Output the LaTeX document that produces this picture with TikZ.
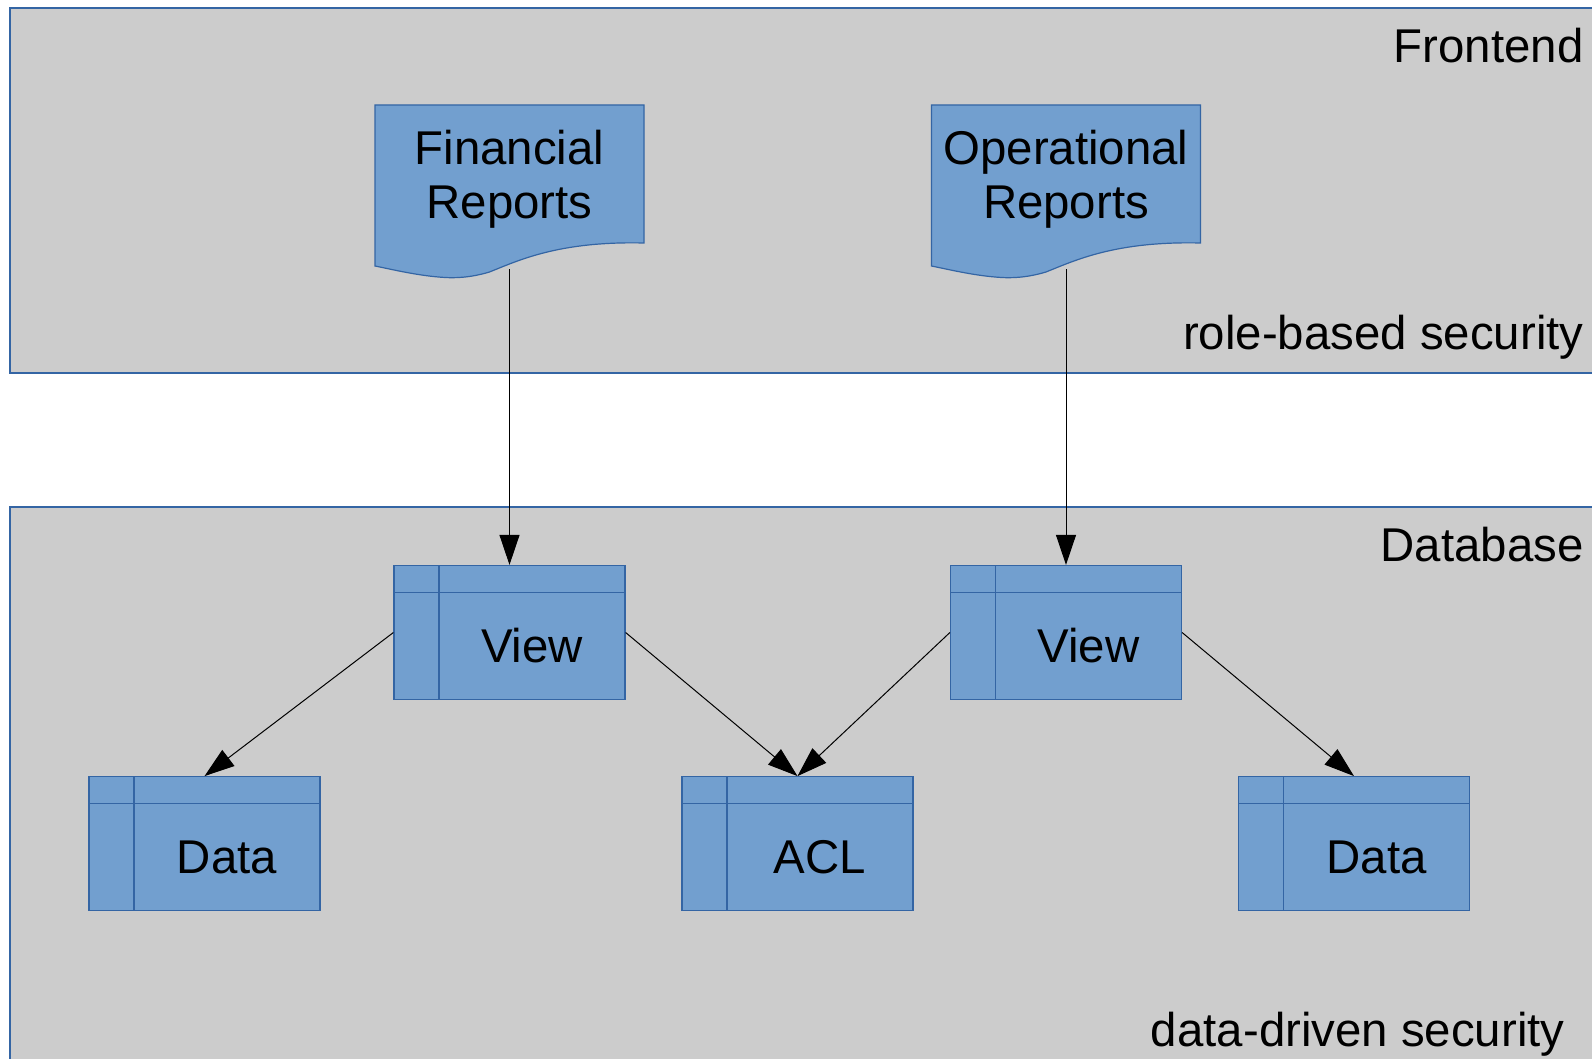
\documentclass[tikz,border=0pt]{standalone}
\usepackage{fontspec}
\setmainfont{Liberation Sans}
\usetikzlibrary{arrows.meta, positioning, backgrounds}
\definecolor{lofill}{HTML}{729FCF}
\definecolor{loline}{HTML}{3465A4}
\definecolor{zonegray}{HTML}{CCCCCC}
\newcommand{\diagfont}{\fontsize{23.7pt}{27pt}\selectfont}

\begin{document}
\begin{tikzpicture}[x=0.5pt, y=-0.5pt, font=\diagfont,
    zone/.style={draw=loline, fill=zonegray, line width=0.6pt},
    zonelabel/.style={inner sep=0pt, anchor=base east},
    report/.style={minimum width=134.5pt, minimum height=70pt, inner sep=0pt, align=center},
    docline/.style={draw=loline, fill=lofill, line width=0.6pt},
    tbl/.style={draw=loline, fill=lofill, line width=0.6pt, minimum width=115.5pt, minimum height=67pt, inner sep=0pt,
        path picture={
            \draw[loline, line width=0.6pt] ([yshift=-13.3pt]path picture bounding box.north west) -- ([yshift=-13.3pt]path picture bounding box.north east);
            \draw[loline, line width=0.6pt] ([xshift=22.5pt]path picture bounding box.north west) -- ([xshift=22.5pt]path picture bounding box.south west);}},
    tbltext/.style={xshift=11.25pt, yshift=-6.7pt},
    arr/.style={-{Triangle[length=15pt, width=10pt]}, line width=0.5pt}]
        \useasboundingbox (0,0) rectangle (1592,1059);

        % reports in the frontend
        \node[report] at (509.5,179) (finrep) {Financial\\Reports};
        \node[report] at (1066,179) (oprep) {Operational\\Reports};
        \coordinate (finfoot) at ([yshift=-10pt]finrep.south);
        \coordinate (opfoot) at ([yshift=-10pt]oprep.south);

        % tables in the database
        \node[tbl, label={[tbltext]center:View}] at (509.5,632.5) (view1) {};
        \node[tbl, label={[tbltext]center:View}] at (1066,632.5) (view2) {};
        \node[tbl, label={[tbltext]center:Data}] at (204.5,843.7) (data1) {};
        \node[tbl, label={[tbltext]center:ACL}] at (797.5,843.7) (acl) {};
        \node[tbl, label={[tbltext]center:Data}] at (1354,843.7) (data2) {};

        \draw[arr] (finfoot) -- (view1.north);
        \draw[arr] (opfoot) -- (view2.north);
        \draw[arr] (view1.west) -- (data1.north);
        \draw[arr] (view1.east) -- (acl.north);
        \draw[arr] (view2.west) -- (acl.north);
        \draw[arr] (view2.east) -- (data2.north);

        \node[zonelabel] at (1584,63) (fronttitle) {Frontend};
        \node[zonelabel] at (1584,350) (frontnote) {role-based security};
        \node[zonelabel] at (1584,561.5) (dbtitle) {Database};
        \node[zonelabel] at (1565,1046) (dbnote) {data-driven security};

        \begin{scope}[on background layer]
            \draw[zone] (10,8) rectangle (1600,373);
            \draw[zone] (10,507) rectangle (1600,1070);
            \foreach \doc in {finrep, oprep} {
                \begin{scope}[shift={(\doc.center)}]
                    \draw[docline] (-134.5,-74) -- (134.5,-74) -- (134.5,64) .. controls (50,62) and (10,81) .. (-20,93) .. controls (-40,99) and (-55,99) .. (-64.5,98.5) .. controls (-90,97) and (-115,91) .. (-134.5,87) -- cycle;
                \end{scope}
            }
        \end{scope}
    \end{tikzpicture}
\end{document}
